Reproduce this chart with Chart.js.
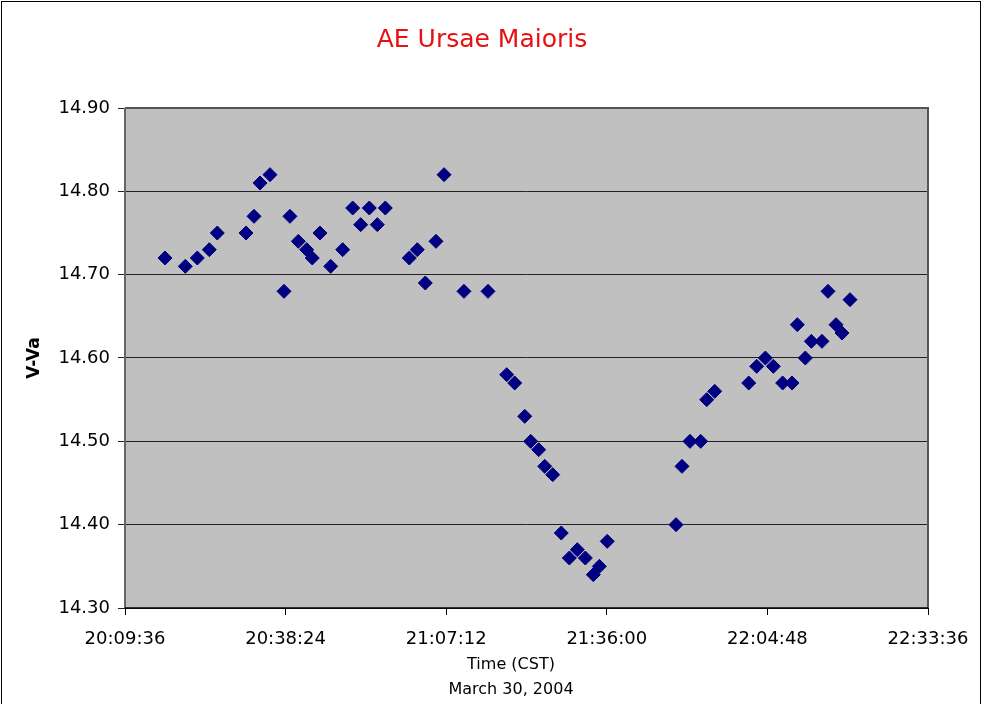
<!DOCTYPE html>
<html>
<head>
<meta charset="utf-8">
<title>AE Ursae Maioris</title>
<script src="https://cdn.jsdelivr.net/npm/chart.js@4.4.1/dist/chart.umd.min.js"></script>
<style>
  html, body { margin: 0; padding: 0; background: #fff; }
  #wrap { width: 983px; height: 704px; position: relative; }
</style>
</head>
<body>
<div id="wrap"><canvas id="aeChart" width="983" height="704"></canvas></div>
<script>
// observation times (CST) and V-Va magnitudes
const times = [
  '20:16:46', '20:20:25', '20:22:34', '20:24:43', '20:26:09', '20:31:18', '20:32:44', '20:33:49',
  '20:35:36', '20:38:07', '20:39:11', '20:40:41', '20:42:11', '20:43:11', '20:44:34', '20:46:29',
  '20:48:38', '20:50:26', '20:51:52', '20:53:25', '20:54:51', '20:56:17', '21:00:35', '21:02:01',
  '21:03:27', '21:05:22', '21:06:49', '21:10:23', '21:14:42', '21:18:03', '21:19:29', '21:21:17',
  '21:22:21', '21:23:47', '21:24:52', '21:26:18', '21:27:50', '21:29:17', '21:30:43', '21:32:09',
  '21:33:35', '21:34:40', '21:36:05', '21:48:25', '21:49:29', '21:50:55', '21:52:50', '21:53:55',
  '21:55:21', '22:01:27', '22:02:53', '22:04:26', '22:05:52', '22:07:32', '22:09:13', '22:10:10',
  '22:11:36', '22:12:41', '22:14:35', '22:15:40', '22:17:06', '22:18:11', '22:19:37'
];
const mags = [
  14.72, 14.71, 14.72, 14.73, 14.75, 14.75, 14.77, 14.81,
  14.82, 14.68, 14.77, 14.74, 14.73, 14.72, 14.75, 14.71,
  14.73, 14.78, 14.76, 14.78, 14.76, 14.78, 14.72, 14.73,
  14.69, 14.74, 14.82, 14.68, 14.68, 14.58, 14.57, 14.53,
  14.50, 14.49, 14.47, 14.46, 14.39, 14.36, 14.37, 14.36,
  14.34, 14.35, 14.38, 14.40, 14.47, 14.50, 14.50, 14.55,
  14.56, 14.57, 14.59, 14.60, 14.59, 14.57, 14.57, 14.64,
  14.60, 14.62, 14.62, 14.68, 14.64, 14.63, 14.67
];
const xTickStart = '20:09:36';
const xTickEnd = '22:33:36';
const xTickStep = '00:28:48';
const yTicks = [14.30, 14.40, 14.50, 14.60, 14.70, 14.80, 14.90];

const chartTitle = 'AE Ursae Maioris';
const xTitle = ['Time (CST)', 'March 30, 2004'];
const yTitle = 'V-Va';

function toSec(t) {
    let p = t.split(':').map(Number);
    return p[0] * 3600 + p[1] * 60 + p[2];
}
function fmtTime(s) {
    s = Math.round(s);
    let h = Math.floor(s / 3600), m = Math.floor((s % 3600) / 60), sec = s % 60;
    return h + ':' + String(m).padStart(2, '0') + ':' + String(sec).padStart(2, '0');
}

let points = times.map((t, i) => ({ x: toSec(t), y: mags[i] }));

// grey plot area, outer frame, title and x axis caption
const decor = {
    id: 'decor',
    beforeDraw(chart) {
        let c = chart.ctx, a = chart.chartArea;
        c.save();
        c.fillStyle = '#c0c0c0';
        c.fillRect(a.left, a.top, a.right - a.left, a.bottom - a.top);
        c.restore();
    },
    afterDraw(chart) {
        let c = chart.ctx, a = chart.chartArea;
        c.save();
        // plot frame (top / right shaded)
        c.strokeStyle = '#555';
        c.lineWidth = 2;
        c.beginPath();
        c.moveTo(a.left, a.top);
        c.lineTo(a.right, a.top);
        c.lineTo(a.right, a.bottom);
        c.stroke();
        c.strokeStyle = '#666';
        c.beginPath();
        c.moveTo(a.left, a.top);
        c.lineTo(a.left, a.bottom);
        c.stroke();
        c.strokeStyle = '#000';
        c.lineWidth = 1.5;
        c.beginPath();
        c.moveTo(a.left, a.bottom);
        c.lineTo(a.right, a.bottom);
        c.stroke();
        // outer frame
        c.lineWidth = 1;
        c.strokeStyle = '#000';
        c.strokeRect(1.5, 1.5, 979, 720);
        // title
        c.fillStyle = '#e81010';
        c.font = '25px "DejaVu Sans"';
        c.textAlign = 'center';
        c.textBaseline = 'middle';
        c.fillText(chartTitle, 482, 40);
        // x caption
        c.fillStyle = '#000';
        c.font = '16px "DejaVu Sans"';
        c.fillText(xTitle[0], 511, 665);
        c.fillText(xTitle[1], 511, 690);
        c.restore();
    }
};

var ctx = document.getElementById('aeChart').getContext('2d');
var aeChart = new Chart(ctx, {
    type: 'scatter',
    data: {
        datasets: [{
            label: 'V-Va',
            data: points,
            pointStyle: 'rectRot',
            pointRadius: 7,
            pointHoverRadius: 7,
            backgroundColor: '#000080',
            borderColor: '#000080',
            borderWidth: 1
        }]
    },
    options: {
        responsive: false,
        animation: false,
        layout: { padding: { top: 108, left: 0, right: 55, bottom: 0 } },
        plugins: {
            legend: { display: false },
            title: { display: false },
            tooltip: { enabled: false }
        },
        scales: {
            x: {
                type: 'linear',
                min: toSec(xTickStart),
                max: toSec(xTickEnd),
                afterFit: function(scale) { scale.height = 96; },
                border: { display: false },
                grid: { drawOnChartArea: false, color: '#000', tickLength: 7, lineWidth: 1 },
                ticks: {
                    stepSize: toSec(xTickStep),
                    color: '#000',
                    padding: 14,
                    maxRotation: 0,
                    font: { family: 'DejaVu Sans', size: 18 },
                    callback: function(v) { return fmtTime(v); }
                }
            },
            y: {
                min: yTicks[0],
                max: yTicks[yTicks.length - 1],
                afterFit: function(scale) { scale.width = 125; },
                border: { display: false },
                grid: { color: '#222', lineWidth: 1, tickLength: 7 },
                ticks: {
                    stepSize: 0.1,
                    color: '#000',
                    padding: 8,
                    font: { family: 'DejaVu Sans', size: 18 },
                    callback: function(v) { return v.toFixed(2); }
                },
                title: {
                    display: true,
                    text: yTitle,
                    color: '#000',
                    padding: { top: 24, bottom: 0 },
                    font: { family: 'DejaVu Sans', size: 17, weight: 'bold' }
                }
            }
        }
    },
    plugins: [decor]
});
</script>
</body>
</html>
